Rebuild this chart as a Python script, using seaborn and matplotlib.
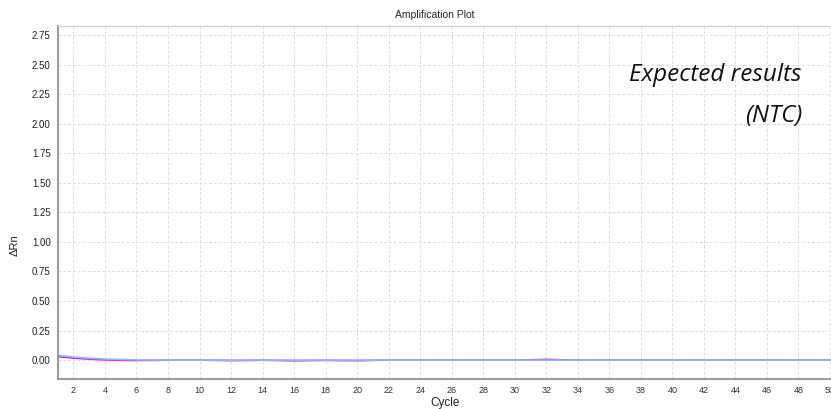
import numpy as np
import pandas as pd
import matplotlib.pyplot as plt
import seaborn as sns

# cycle numbers and delta Rn traces for the NTC wells
cycles = list(range(1, 51))

ntc_blue = [0.040, 0.026, 0.016, 0.009, 0.005, 0.002, 0.001, 0.0, 0.0, 0.0,
            0.0, 0.0, 0.0, 0.0, 0.0, 0.0, 0.0, 0.0, 0.0, 0.0,
            0.0, 0.0, 0.0, 0.0, 0.0, 0.0, 0.0, 0.0, 0.0, 0.0,
            0.0, 0.0, 0.0, 0.0, 0.0, 0.0, 0.0, 0.0, 0.0, 0.0,
            0.0, 0.0, 0.0, 0.0, 0.0, 0.0, 0.0, 0.0, 0.0, 0.0]

ntc_magenta = [0.030, 0.017, 0.008, 0.002, -0.002, -0.003, -0.002, -0.001, 0.0, 0.0,
               -0.002, -0.004, -0.003, -0.001, -0.003, -0.006, -0.004, -0.002, -0.004, -0.005,
               -0.002, 0.0, 0.0, 0.0, 0.0, 0.0, 0.0, 0.0, 0.0, 0.0,
               0.002, 0.006, 0.002, 0.0, 0.0, 0.0, 0.0, 0.0, 0.0, 0.0,
               0.0, 0.0, 0.0, 0.0, 0.0, 0.0, 0.0, 0.0, 0.0, 0.0]

y_ticks = [0.0, 0.25, 0.5, 0.75, 1.0, 1.25, 1.5, 1.75, 2.0, 2.25, 2.5, 2.75]
x_ticks = list(range(2, 52, 2))

df = pd.DataFrame({
    "Cycle": cycles * 2,
    "dRn": ntc_magenta + ntc_blue,
    "well": ["magenta"] * 50 + ["blue"] * 50,
})

sns.set_theme(style="white")
plt.rcParams['font.family'] = ['Liberation Sans', 'DejaVu Sans']

fig = plt.figure(figsize=(8.31, 4.09), dpi=100)
ax = fig.add_axes([0.0694, 0.0733, 0.935, 0.863])

sns.lineplot(data=df, x="Cycle", y="dRn", hue="well",
             palette={"magenta": "#ff00ff", "blue": "#80c0ff"},
             linewidth=1.2, legend=False, ax=ax)

ax.set_xlim(1, 50.3)
ax.set_ylim(-0.16, 2.826)
ax.set_xticks(x_ticks)
ax.set_yticks(y_ticks)
ax.set_xticklabels([str(t) for t in x_ticks], fontsize=6.5, color="#333333")
ax.set_yticklabels([f"{t:.2f}" for t in y_ticks], fontsize=7, color="#222222")
ax.tick_params(axis="y", length=3, color="#777777", pad=2)
ax.tick_params(axis="x", length=0, pad=5)
ax.grid(True, color="#dddddd", linestyle=(0, (3, 2)), linewidth=0.7)

for side in ["left", "bottom"]:
    ax.spines[side].set_color("#888888")
    ax.spines[side].set_linewidth(1.2)
ax.spines["top"].set_color("#cccccc")
ax.spines["top"].set_linewidth(0.8)
ax.spines["right"].set_visible(False)

ax.set_xlabel("")
ax.set_ylabel("")
fig.text(0.523, 0.963, "Amplification Plot", ha="center", va="center", fontsize=7.5)
fig.text(0.535, 0.015, "Cycle", ha="center", va="center", fontsize=8.5, color="#222222")
fig.text(0.018, 0.4, "ΔRn", ha="center", va="center", rotation=90, fontsize=8, color="#222222")

fig.text(0.965, 0.817, "Expected results", ha="right", va="center", fontsize=17.5,
         style="italic", family=["Open Sans", "DejaVu Sans"], color="#111111")
fig.text(0.966, 0.717, "(NTC)", ha="right", va="center", fontsize=17.5,
         style="italic", family=["Open Sans", "DejaVu Sans"], color="#111111")

plt.savefig("out.png", dpi=100)
